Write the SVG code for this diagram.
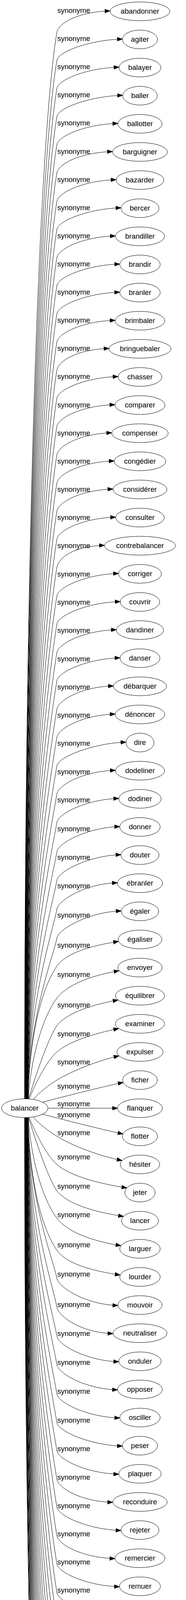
<svg xmlns="http://www.w3.org/2000/svg" width="477" height="5675" viewBox="0 0 477 5675">
<style>
text{font-family:"Liberation Sans",Arial,sans-serif;font-size:18.5px;fill:#000}
.n ellipse{fill:none;stroke:#000;stroke-width:1}
.n text{text-anchor:middle}
.e path{fill:none;stroke:#000;stroke-width:1;marker-end:url(#ah)}
.e text{text-anchor:start}
</style>
<defs>
<marker id="ah" viewBox="0 0 13 10" markerWidth="13" markerHeight="10" refX="13" refY="5" orient="auto" markerUnits="userSpaceOnUse" overflow="visible"><path d="M0,0.3 L13,5 L0,9.7 z" fill="#000" stroke="#000" stroke-width="1"/></marker>
</defs>
<rect width="477" height="5675" fill="#fff"/>
<g id="edges">
<g class="e" id="e1"><path d="M63,2813 C63,1447.5 99.6,355.1 146,82 C150,60 199.2,30 282.2,28"/><text x="147" y="33">synonyme</text></g>
<g class="e" id="e2"><path d="M63.3,2813 C63.3,1483.5 100.8,419.9 146,154 C150,132 231,102 314,100"/><text x="147" y="105.1">synonyme</text></g>
<g class="e" id="e3"><path d="M63.6,2813 C63.6,1519.5 102,484.7 146,226 C150,204 222.3,174 305.3,172"/><text x="147" y="177.2">synonyme</text></g>
<g class="e" id="e4"><path d="M63.8,2813 C63.8,1555.5 103.2,549.5 146,298 C150,276 231.6,246 314.6,244"/><text x="147" y="249.3">synonyme</text></g>
<g class="e" id="e5"><path d="M64.1,2813 C64.1,1591.5 104.5,614.3 146,370 C150,348 219.2,318 302.2,316"/><text x="147" y="321.4">synonyme</text></g>
<g class="e" id="e6"><path d="M64.4,2813 C64.4,1627.5 105.7,679.1 146,442 C150,420 205.5,390 288.5,388"/><text x="147" y="393.6">synonyme</text></g>
<g class="e" id="e7"><path d="M64.7,2813 C64.7,1664 106.9,744.8 146,515 C150,493 214.8,462 297.8,460"/><text x="147" y="465.7">synonyme</text></g>
<g class="e" id="e8"><path d="M65,2813 C65,1700 108.2,809.6 146,587 C150,565 227.3,534 310.3,532"/><text x="147" y="537.8">synonyme</text></g>
<g class="e" id="e9"><path d="M65.2,2813 C65.2,1736 109.4,874.4 146,659 C150,637 212.9,606 295.9,604"/><text x="147" y="609.9">synonyme</text></g>
<g class="e" id="e10"><path d="M65.5,2813 C65.5,1772 110.6,939.2 146,731 C150,709 224.1,678 307.1,676"/><text x="147" y="682">synonyme</text></g>
<g class="e" id="e11"><path d="M65.8,2813 C65.8,1808 111.8,1004 146,803 C150,781 224.1,750 307.1,748"/><text x="147" y="754.1">synonyme</text></g>
<g class="e" id="e12"><path d="M66.1,2813 C66.1,1844 113.1,1068.8 146,875 C150,853 212.3,822 295.3,820"/><text x="147" y="826.2">synonyme</text></g>
<g class="e" id="e13"><path d="M66.4,2813 C66.4,1880 114.3,1133.6 146,947 C150,925 196.7,894 279.7,892"/><text x="147" y="898.3">synonyme</text></g>
<g class="e" id="e14"><path d="M66.6,2813 C66.6,1916 115.5,1198.4 146,1019 C150,997 219.8,966 302.8,964"/><text x="147" y="970.4">synonyme</text></g>
<g class="e" id="e15"><path d="M66.9,2813 C66.9,1952 116.7,1263.2 146,1091 C150,1069 211.7,1038 294.7,1036"/><text x="147" y="1042.6">synonyme</text></g>
<g class="e" id="e16"><path d="M67.2,2813 C67.2,1988.5 118,1328.9 146,1164 C150,1142 203.6,1110 286.6,1108"/><text x="147" y="1114.7">synonyme</text></g>
<g class="e" id="e17"><path d="M67.5,2813 C67.5,2024.5 119.2,1393.7 146,1236 C150,1214 209.8,1182 292.8,1180"/><text x="147" y="1186.8">synonyme</text></g>
<g class="e" id="e18"><path d="M67.8,2813 C67.8,2060.5 120.4,1458.5 146,1308 C150,1286 206.7,1254 289.7,1252"/><text x="147" y="1258.9">synonyme</text></g>
<g class="e" id="e19"><path d="M68,2813 C68,2096.5 121.6,1523.3 146,1380 C150,1358 213.6,1326 296.6,1324"/><text x="147" y="1331">synonyme</text></g>
<g class="e" id="e20"><path d="M68.3,2813 C68.3,2132.5 122.9,1588.1 146,1452 C150,1430 184.9,1398 267.9,1396"/><text x="147" y="1403.3">synonyme</text></g>
<g class="e" id="e21"><path d="M68.6,2813 C68.6,2169 124.1,1653.8 146,1525 C150,1503 221,1470 304,1468"/><text x="147" y="1475.6">synonyme</text></g>
<g class="e" id="e22"><path d="M68.9,2813 C68.9,2205 125.3,1718.6 146,1597 C150,1575 225.4,1542 308.4,1540"/><text x="147" y="1547.9">synonyme</text></g>
<g class="e" id="e23"><path d="M69.2,2813 C69.2,2241.5 126.6,1784.3 146,1670 C150,1648 215.4,1614 298.4,1612"/><text x="147" y="1620.2">synonyme</text></g>
<g class="e" id="e24"><path d="M69.4,2813 C69.4,2277.5 127.8,1849.1 146,1742 C150,1720 224.8,1686 307.8,1684"/><text x="147" y="1692.5">synonyme</text></g>
<g class="e" id="e25"><path d="M69.7,2813 C69.7,2314 129,1914.8 146,1815 C150,1793 207.9,1758 290.9,1756"/><text x="147" y="1764.8">synonyme</text></g>
<g class="e" id="e26"><path d="M70,2813 C70,2350 130.3,1979.6 146,1887 C150,1865 212.3,1830 295.3,1828"/><text x="147" y="1837.1">synonyme</text></g>
<g class="e" id="e27"><path d="M70.3,2813 C70.3,2386.5 131.5,2045.3 146,1960 C150,1938 240,1902 323,1900"/><text x="147" y="1909.4">synonyme</text></g>
<g class="e" id="e28"><path d="M70.6,2813 C70.6,2422.5 132.7,2110.1 146,2032 C150,2010 212.9,1974 295.9,1972"/><text x="147" y="1981.7">synonyme</text></g>
<g class="e" id="e29"><path d="M70.8,2813 C70.8,2459 134,2175.8 146,2105 C150,2083 221.6,2046 304.6,2044"/><text x="147" y="2054">synonyme</text></g>
<g class="e" id="e30"><path d="M71.1,2813 C71.1,2496.5 135.2,2243.3 146,2180 C150,2158 224.1,2118 307.1,2116"/><text x="147" y="2128">synonyme</text></g>
<g class="e" id="e31"><path d="M71.4,2813 C71.4,2533 136.5,2309 146,2253 C150,2231 227.2,2190 310.2,2188"/><text x="147" y="2201">synonyme</text></g>
<g class="e" id="e32"><path d="M71.7,2813 C71.7,2570 137.7,2375.6 146,2327 C150,2305 217.9,2262 300.9,2260"/><text x="147" y="2274">synonyme</text></g>
<g class="e" id="e33"><path d="M72,2813 C72,2607 139,2442.2 146,2401 C150,2379 227.9,2334 310.9,2332"/><text x="147" y="2349">synonyme</text></g>
<g class="e" id="e34"><path d="M72.3,2813 C74,2680 100,2540 146,2473 C168,2443 220,2423 304,2410"/><text x="147" y="2426">synonyme</text></g>
<g class="e" id="e35"><path d="M72.6,2813 C78,2720 105,2610 146,2555 C170,2525 220,2500 305.4,2485"/><text x="147" y="2501">synonyme</text></g>
<g class="e" id="e36"><path d="M73,2813 C90,2760 120,2665 146,2625 C170,2597 220,2575 302.9,2560"/><text x="147" y="2579">synonyme</text></g>
<g class="e" id="e37"><path d="M75,2813 C90,2775 120,2715 146,2693 C175,2667 240,2646 304.4,2633"/><text x="147" y="2653">synonyme</text></g>
<g class="e" id="e38"><path d="M85,2814.6 C100,2797 125,2778 146,2765 C175,2747 240,2718 305.1,2703"/><text x="147" y="2725">synonyme</text></g>
<g class="e" id="e39"><path d="M109,2821.5 C170,2806 250,2785 316,2771"/><text x="147" y="2787">synonyme</text></g>
<g class="e" id="e40"><path d="M123,2837 L301.5,2837"/><text x="147" y="2832">synonyme</text></g>
<g class="e" id="e41"><path d="M109,2852.5 C170,2868 250,2889 315.4,2903"/><text x="147" y="2860">synonyme</text></g>
<g class="e" id="e42"><path d="M85,2859.4 C100,2877 125,2896 146,2909 C175,2927 240,2956 313,2971"/><text x="147" y="2906">synonyme</text></g>
<g class="e" id="e43"><path d="M75,2861 C90,2899 120,2959 146,2981 C175,3007 240,3028 325.4,3041"/><text x="147" y="2968">synonyme</text></g>
<g class="e" id="e44"><path d="M73,2861 C90,2914 120,3009 146,3049 C170,3077 220,3099 316.8,3114"/><text x="147" y="3043">synonyme</text></g>
<g class="e" id="e45"><path d="M72.6,2861 C78,2954 105,3064 146,3119 C170,3149 220,3174 310.1,3189"/><text x="147" y="3116">synonyme</text></g>
<g class="e" id="e46"><path d="M72.3,2861 C74,2994 100,3134 146,3201 C168,3231 220,3251 308.2,3264"/><text x="147" y="3193">synonyme</text></g>
<g class="e" id="e47"><path d="M72,2861 C72,3067 139,3231.8 146,3273 C150,3295 219.2,3340 302.2,3342"/><text x="147" y="3268">synonyme</text></g>
<g class="e" id="e48"><path d="M71.7,2861 C71.7,3104 137.7,3298.4 146,3347 C150,3369 206.7,3412 289.7,3414"/><text x="147" y="3346">synonyme</text></g>
<g class="e" id="e49"><path d="M71.4,2861 C71.4,3141 136.5,3365 146,3421 C150,3443 221.6,3484 304.6,3486"/><text x="147" y="3420">synonyme</text></g>
<g class="e" id="e50"><path d="M71.1,2861 C71.1,3177.5 135.2,3430.7 146,3494 C150,3516 218.5,3556 301.5,3558"/><text x="147" y="3494">synonyme</text></g>
<g class="e" id="e51"><path d="M70.8,2861 C70.8,3215 134,3498.2 146,3569 C150,3591 224.2,3628 307.2,3630"/><text x="147" y="3568">synonyme</text></g>
<g class="e" id="e52"><path d="M70.6,2861 C70.6,3251.5 132.7,3563.9 146,3642 C150,3664 231,3700 314,3702"/><text x="147" y="3642">synonyme</text></g>
<g class="e" id="e53"><path d="M70.3,2861 C70.3,3287.5 131.5,3628.7 146,3714 C150,3736 221.6,3772 304.6,3774"/><text x="147" y="3715">synonyme</text></g>
<g class="e" id="e54"><path d="M70,2861 C70,3324 130.3,3694.4 146,3787 C150,3809 206.1,3844 289.1,3846"/><text x="147" y="3788">synonyme</text></g>
<g class="e" id="e55"><path d="M69.7,2861 C69.7,3360 129,3759.2 146,3859 C150,3881 227.3,3916 310.3,3918"/><text x="147" y="3861">synonyme</text></g>
<g class="e" id="e56"><path d="M69.4,2861 C69.4,3396.5 127.8,3824.9 146,3932 C150,3954 211.7,3988 294.7,3990"/><text x="147" y="3933">synonyme</text></g>
<g class="e" id="e57"><path d="M69.2,2861 C69.2,3432.5 126.6,3889.7 146,4004 C150,4026 223.5,4060 306.5,4062"/><text x="147" y="4005">synonyme</text></g>
<g class="e" id="e58"><path d="M68.9,2861 C68.9,3469 125.3,3955.4 146,4077 C150,4099 215.4,4132 298.4,4134"/><text x="147" y="4077">synonyme</text></g>
<g class="e" id="e59"><path d="M68.6,2861 C68.6,3505 124.1,4020.2 146,4149 C150,4171 230.4,4204 313.4,4206"/><text x="147" y="4149">synonyme</text></g>
<g class="e" id="e60"><path d="M68.3,2861 C68.3,3541.5 122.9,4085.9 146,4222 C150,4244 227.3,4276 310.3,4278"/><text x="147" y="4221">synonyme</text></g>
<g class="e" id="e61"><path d="M68,2861 C68,3577.5 121.6,4150.7 146,4294 C150,4316 224.8,4348 307.8,4350"/><text x="147" y="4293">synonyme</text></g>
<g class="e" id="e62"><path d="M67.8,2861 C67.8,3613.5 120.4,4215.5 146,4366 C150,4388 219.2,4420 302.2,4422"/><text x="147" y="4365">synonyme</text></g>
<g class="e" id="e63"><path d="M67.5,2861 C67.5,3649.5 119.2,4280.3 146,4438 C150,4460 228.5,4492 311.5,4494"/><text x="147" y="4437">synonyme</text></g>
<g class="e" id="e64"><path d="M67.2,2861 C67.2,3685.5 118,4345.1 146,4510 C150,4532 214.2,4564 297.2,4566"/><text x="147" y="4509">synonyme</text></g>
<g class="e" id="e65"><path d="M66.9,2861 C66.9,3722 116.7,4410.8 146,4583 C150,4605 221,4636 304,4638"/><text x="147" y="4581">synonyme</text></g>
<g class="e" id="e66"><path d="M66.6,2861 C66.6,3758 115.5,4475.6 146,4655 C150,4677 206.1,4708 289.1,4710"/><text x="147" y="4653">synonyme</text></g>
<g class="e" id="e67"><path d="M66.4,2861 C66.4,3794 114.3,4540.4 146,4727 C150,4749 227.9,4780 310.9,4782"/><text x="147" y="4725">synonyme</text></g>
<g class="e" id="e68"><path d="M66.1,2861 C66.1,3830 113.1,4605.2 146,4799 C150,4821 225.4,4852 308.4,4854"/><text x="147" y="4797">synonyme</text></g>
<g class="e" id="e69"><path d="M65.8,2861 C65.8,3866 111.8,4670 146,4871 C150,4893 220.4,4924 303.4,4926"/><text x="147" y="4869">synonyme</text></g>
<g class="e" id="e70"><path d="M65.5,2861 C65.5,3902 110.6,4734.8 146,4943 C150,4965 224.2,4996 307.2,4998"/><text x="147" y="4941">synonyme</text></g>
<g class="e" id="e71"><path d="M65.2,2861 C65.2,3938 109.4,4799.6 146,5015 C150,5037 229.1,5068 312.1,5070"/><text x="147" y="5013">synonyme</text></g>
<g class="e" id="e72"><path d="M65,2861 C65,3974 108.2,4864.4 146,5087 C150,5109 234.7,5140 317.7,5142"/><text x="147" y="5085">synonyme</text></g>
<g class="e" id="e73"><path d="M64.7,2861 C64.7,4010 106.9,4929.2 146,5159 C150,5181 237.2,5212 320.2,5214"/><text x="147" y="5157">synonyme</text></g>
<g class="e" id="e74"><path d="M64.4,2861 C64.4,4046.5 105.7,4994.9 146,5232 C150,5254 184.3,5284 267.3,5286"/><text x="147" y="5229">synonyme</text></g>
<g class="e" id="e75"><path d="M64.1,2861 C64.1,4082.5 104.5,5059.7 146,5304 C150,5326 209.8,5356 292.8,5358"/><text x="147" y="5308">synonyme</text></g>
<g class="e" id="e76"><path d="M63.8,2861 C63.8,4118.5 103.2,5124.5 146,5376 C150,5398 221.6,5428 304.6,5430"/><text x="147" y="5376">synonyme</text></g>
<g class="e" id="e77"><path d="M63.6,2861 C63.6,4154.5 102,5189.3 146,5448 C150,5470 180,5500 246.1,5502"/><text x="147" y="5448">synonyme</text></g>
<g class="e" id="e78"><path d="M63.3,2861 C63.3,4190.5 100.8,5254.1 146,5520 C150,5542 181.8,5572 264.8,5574"/><text x="147" y="5519">synonyme</text></g>
<g class="e" id="e79"><path d="M63,2861 C63,4226.5 99.6,5318.9 146,5592 C150,5614 180.5,5644 263.5,5646"/><text x="147" y="5589">synonyme</text></g>
</g>
<g id="node-balancer" class="n"><ellipse cx="63.5" cy="2837" rx="59.5" ry="24"/><text x="63.5" y="2843">balancer</text></g>
<g id="n1" class="n"><ellipse cx="359" cy="29" rx="76.8" ry="24"/><text x="359" y="35">abandonner</text></g>
<g id="n2" class="n"><ellipse cx="359" cy="101" rx="45" ry="24"/><text x="359" y="107">agiter</text></g>
<g id="n3" class="n"><ellipse cx="359" cy="173" rx="53.7" ry="24"/><text x="359" y="179">balayer</text></g>
<g id="n4" class="n"><ellipse cx="359" cy="245" rx="44.4" ry="24"/><text x="359" y="251">baller</text></g>
<g id="n5" class="n"><ellipse cx="359" cy="317" rx="56.8" ry="24"/><text x="359" y="323">ballotter</text></g>
<g id="n6" class="n"><ellipse cx="359" cy="389" rx="70.5" ry="24"/><text x="359" y="395">barguigner</text></g>
<g id="n7" class="n"><ellipse cx="359" cy="461" rx="61.2" ry="24"/><text x="359" y="467">bazarder</text></g>
<g id="n8" class="n"><ellipse cx="359" cy="533" rx="48.7" ry="24"/><text x="359" y="539">bercer</text></g>
<g id="n9" class="n"><ellipse cx="359" cy="605" rx="63.1" ry="24"/><text x="359" y="611">brandiller</text></g>
<g id="n10" class="n"><ellipse cx="359" cy="677" rx="51.9" ry="24"/><text x="359" y="683">brandir</text></g>
<g id="n11" class="n"><ellipse cx="359" cy="749" rx="51.9" ry="24"/><text x="359" y="755">branler</text></g>
<g id="n12" class="n"><ellipse cx="359" cy="821" rx="63.7" ry="24"/><text x="359" y="827">brimbaler</text></g>
<g id="n13" class="n"><ellipse cx="359" cy="893" rx="79.3" ry="24"/><text x="359" y="899">bringuebaler</text></g>
<g id="n14" class="n"><ellipse cx="359" cy="965" rx="56.2" ry="24"/><text x="359" y="971">chasser</text></g>
<g id="n15" class="n"><ellipse cx="359" cy="1037" rx="64.3" ry="24"/><text x="359" y="1043">comparer</text></g>
<g id="n16" class="n"><ellipse cx="359" cy="1109" rx="72.4" ry="24"/><text x="359" y="1115">compenser</text></g>
<g id="n17" class="n"><ellipse cx="359" cy="1181" rx="66.2" ry="24"/><text x="359" y="1187">congédier</text></g>
<g id="n18" class="n"><ellipse cx="359" cy="1253" rx="69.3" ry="24"/><text x="359" y="1259">considérer</text></g>
<g id="n19" class="n"><ellipse cx="359" cy="1325" rx="62.4" ry="24"/><text x="359" y="1331">consulter</text></g>
<g id="n20" class="n"><ellipse cx="359" cy="1397" rx="91.1" ry="24"/><text x="359" y="1403">contrebalancer</text></g>
<g id="n21" class="n"><ellipse cx="359" cy="1469" rx="55" ry="24"/><text x="359" y="1475">corriger</text></g>
<g id="n22" class="n"><ellipse cx="359" cy="1541" rx="50.6" ry="24"/><text x="359" y="1547">couvrir</text></g>
<g id="n23" class="n"><ellipse cx="359" cy="1613" rx="60.6" ry="24"/><text x="359" y="1619">dandiner</text></g>
<g id="n24" class="n"><ellipse cx="359" cy="1685" rx="51.2" ry="24"/><text x="359" y="1691">danser</text></g>
<g id="n25" class="n"><ellipse cx="359" cy="1757" rx="68.1" ry="24"/><text x="359" y="1763">débarquer</text></g>
<g id="n26" class="n"><ellipse cx="359" cy="1829" rx="63.7" ry="24"/><text x="359" y="1835">dénoncer</text></g>
<g id="n27" class="n"><ellipse cx="359" cy="1901" rx="36" ry="24"/><text x="359" y="1907">dire</text></g>
<g id="n28" class="n"><ellipse cx="359" cy="1973" rx="63.1" ry="24"/><text x="359" y="1979">dodeliner</text></g>
<g id="n29" class="n"><ellipse cx="359" cy="2045" rx="54.4" ry="24"/><text x="359" y="2051">dodiner</text></g>
<g id="n30" class="n"><ellipse cx="359" cy="2117" rx="51.9" ry="24"/><text x="359" y="2123">donner</text></g>
<g id="n31" class="n"><ellipse cx="359" cy="2189" rx="48.8" ry="24"/><text x="359" y="2195">douter</text></g>
<g id="n32" class="n"><ellipse cx="359" cy="2261" rx="58.1" ry="24"/><text x="359" y="2267">ébranler</text></g>
<g id="n33" class="n"><ellipse cx="359" cy="2333" rx="48.1" ry="24"/><text x="359" y="2339">égaler</text></g>
<g id="n34" class="n"><ellipse cx="359" cy="2405" rx="56.2" ry="24"/><text x="359" y="2411">égaliser</text></g>
<g id="n35" class="n"><ellipse cx="359" cy="2477" rx="56.8" ry="24"/><text x="359" y="2483">envoyer</text></g>
<g id="n36" class="n"><ellipse cx="359" cy="2549" rx="63.1" ry="24"/><text x="359" y="2555">équilibrer</text></g>
<g id="n37" class="n"><ellipse cx="359" cy="2621" rx="63.1" ry="24"/><text x="359" y="2627">examiner</text></g>
<g id="n38" class="n"><ellipse cx="359" cy="2693" rx="59.3" ry="24"/><text x="359" y="2699">expulser</text></g>
<g id="n39" class="n"><ellipse cx="359" cy="2765" rx="44.4" ry="24"/><text x="359" y="2771">ficher</text></g>
<g id="n40" class="n"><ellipse cx="359" cy="2837" rx="57.5" ry="24"/><text x="359" y="2843">flanquer</text></g>
<g id="n41" class="n"><ellipse cx="359" cy="2909" rx="45" ry="24"/><text x="359" y="2915">flotter</text></g>
<g id="n42" class="n"><ellipse cx="359" cy="2981" rx="50.6" ry="24"/><text x="359" y="2987">hésiter</text></g>
<g id="n43" class="n"><ellipse cx="359" cy="3053" rx="38.8" ry="24"/><text x="359" y="3059">jeter</text></g>
<g id="n44" class="n"><ellipse cx="359" cy="3125" rx="47.5" ry="24"/><text x="359" y="3131">lancer</text></g>
<g id="n45" class="n"><ellipse cx="359" cy="3197" rx="51.9" ry="24"/><text x="359" y="3203">larguer</text></g>
<g id="n46" class="n"><ellipse cx="359" cy="3269" rx="51.9" ry="24"/><text x="359" y="3275">lourder</text></g>
<g id="n47" class="n"><ellipse cx="359" cy="3341" rx="56.8" ry="24"/><text x="359" y="3347">mouvoir</text></g>
<g id="n48" class="n"><ellipse cx="359" cy="3413" rx="69.3" ry="24"/><text x="359" y="3419">neutraliser</text></g>
<g id="n49" class="n"><ellipse cx="359" cy="3485" rx="54.4" ry="24"/><text x="359" y="3491">onduler</text></g>
<g id="n50" class="n"><ellipse cx="359" cy="3557" rx="57.5" ry="24"/><text x="359" y="3563">opposer</text></g>
<g id="n51" class="n"><ellipse cx="359" cy="3629" rx="51.8" ry="24"/><text x="359" y="3635">osciller</text></g>
<g id="n52" class="n"><ellipse cx="359" cy="3701" rx="45" ry="24"/><text x="359" y="3707">peser</text></g>
<g id="n53" class="n"><ellipse cx="359" cy="3773" rx="54.4" ry="24"/><text x="359" y="3779">plaquer</text></g>
<g id="n54" class="n"><ellipse cx="359" cy="3845" rx="69.9" ry="24"/><text x="359" y="3851">reconduire</text></g>
<g id="n55" class="n"><ellipse cx="359" cy="3917" rx="48.7" ry="24"/><text x="359" y="3923">rejeter</text></g>
<g id="n56" class="n"><ellipse cx="359" cy="3989" rx="64.3" ry="24"/><text x="359" y="3995">remercier</text></g>
<g id="n57" class="n"><ellipse cx="359" cy="4061" rx="52.5" ry="24"/><text x="359" y="4067">remuer</text></g>
<g id="n58" class="n"><ellipse cx="359" cy="4133" rx="60.6" ry="24"/><text x="359" y="4139">renvoyer</text></g>
<g id="n59" class="n"><ellipse cx="359" cy="4205" rx="45.6" ry="24"/><text x="359" y="4211">rouler</text></g>
<g id="n60" class="n"><ellipse cx="359" cy="4277" rx="48.7" ry="24"/><text x="359" y="4283">sabrer</text></g>
<g id="n61" class="n"><ellipse cx="359" cy="4349" rx="51.2" ry="24"/><text x="359" y="4355">saquer</text></g>
<g id="n62" class="n"><ellipse cx="359" cy="4421" rx="56.8" ry="24"/><text x="359" y="4427">secouer</text></g>
<g id="n63" class="n"><ellipse cx="359" cy="4493" rx="47.5" ry="24"/><text x="359" y="4499">solder</text></g>
<g id="n64" class="n"><ellipse cx="359" cy="4565" rx="61.8" ry="24"/><text x="359" y="4571">swinguer</text></g>
<g id="n65" class="n"><ellipse cx="359" cy="4637" rx="55" ry="24"/><text x="359" y="4643">tanguer</text></g>
<g id="n66" class="n"><ellipse cx="359" cy="4709" rx="69.9" ry="24"/><text x="359" y="4715">tergiverser</text></g>
<g id="n67" class="n"><ellipse cx="359" cy="4781" rx="48.1" ry="24"/><text x="359" y="4787">tituber</text></g>
<g id="n68" class="n"><ellipse cx="359" cy="4853" rx="50.6" ry="24"/><text x="359" y="4859">tortiller</text></g>
<g id="n69" class="n"><ellipse cx="359" cy="4925" rx="55.6" ry="24"/><text x="359" y="4931">tromper</text></g>
<g id="n70" class="n"><ellipse cx="359" cy="4997" rx="51.8" ry="24"/><text x="359" y="5003">vaciller</text></g>
<g id="n71" class="n"><ellipse cx="359" cy="5069" rx="46.9" ry="24"/><text x="359" y="5075">valser</text></g>
<g id="n72" class="n"><ellipse cx="359" cy="5141" rx="41.3" ry="24"/><text x="359" y="5147">vider</text></g>
<g id="n73" class="n"><ellipse cx="359" cy="5213" rx="38.8" ry="24"/><text x="359" y="5219">virer</text></g>
<g id="n74" class="n"><ellipse cx="359" cy="5285" rx="91.7" ry="24"/><text x="359" y="5291">se débarrasser</text></g>
<g id="n75" class="n"><ellipse cx="359" cy="5357" rx="66.2" ry="24"/><text x="359" y="5363">se défaire</text></g>
<g id="n76" class="n"><ellipse cx="359" cy="5429" rx="54.4" ry="24"/><text x="359" y="5435">se tâter</text></g>
<g id="n77" class="n"><ellipse cx="359" cy="5501" rx="112.9" ry="24"/><text x="359" y="5507">donner son compte</text></g>
<g id="n78" class="n"><ellipse cx="359" cy="5573" rx="94.2" ry="24"/><text x="359" y="5579">ficher à la porte</text></g>
<g id="n79" class="n"><ellipse cx="359" cy="5645" rx="95.5" ry="24"/><text x="359" y="5651">foutre à la porte</text></g>
</svg>
